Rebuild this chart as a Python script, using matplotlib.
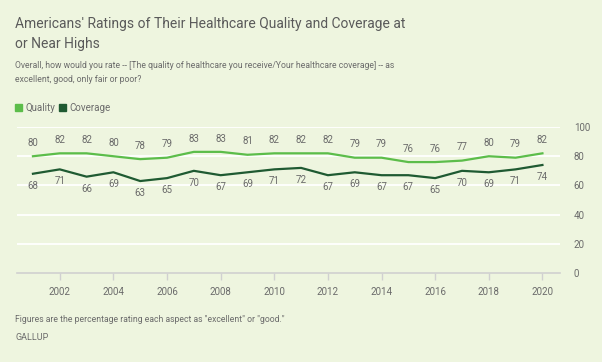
import matplotlib
matplotlib.use("Agg")
import matplotlib.pyplot as plt

plt.rcParams['font.family'] = ['Roboto', 'DejaVu Sans']

# data
years = list(range(2001, 2021))
quality = [80, 82, 82, 80, 78, 79, 83, 83, 81, 82, 82, 82, 79, 79, 76, 76, 77, 80, 79, 82]
coverage = [68, 71, 66, 69, 63, 65, 70, 67, 69, 71, 72, 67, 69, 67, 67, 65, 70, 69, 71, 74]
xticks = list(range(2002, 2021, 2))
yticks = [0, 20, 40, 60, 80, 100]

bg = '#EEF5DF'
c_quality = '#5CBD4A'
c_coverage = '#1F5A32'
grey = '#6B6B6B'

fig = plt.figure(figsize=(6.02, 3.62), dpi=100, facecolor=bg)
ax = fig.add_axes([0.028, 0.246, 0.902, 0.403], facecolor=bg)

for y in yticks[1:]:
    ax.axhline(y, color='white', lw=1.3, zorder=1)

ax.plot(years, quality, color=c_quality, lw=1.6, zorder=3)
ax.plot(years, coverage, color=c_coverage, lw=1.6, zorder=3)

for x, q, c in zip(years, quality, coverage):
    ax.annotate(str(q), (x, q), xytext=(0, 6), textcoords='offset points',
                ha='center', va='bottom', fontsize=7, color=grey)
    ax.annotate(str(c), (x, c), xytext=(0, -5), textcoords='offset points',
                ha='center', va='top', fontsize=7, color=grey)

ax.set_xlim(2000.4, 2020.65)
ax.set_ylim(0, 100)
ax.set_xticks(xticks)
ax.set_xticklabels([str(t) for t in xticks], fontsize=7, color=grey)
ax.yaxis.tick_right()
ax.set_yticks(yticks)
ax.set_yticklabels([str(t) for t in yticks], fontsize=7, color=grey)
ax.tick_params(axis='y', length=0, pad=10)
ax.tick_params(axis='x', length=5, color='#D0D0D0', width=1, pad=5)
for s in ['top', 'left', 'right']:
    ax.spines[s].set_visible(False)
ax.spines['bottom'].set_color('#D0D0D0')
ax.spines['bottom'].set_linewidth(1.2)

fig.text(0.025, 0.905, "Americans' Ratings of Their Healthcare Quality and Coverage at\nor Near Highs",
         fontsize=10, color='#5A5A5A', va='center', linespacing=1.55)
fig.text(0.025, 0.80, "Overall, how would you rate -- [The quality of healthcare you receive/Your healthcare coverage] -- as\nexcellent, good, only fair or poor?",
         fontsize=6.2, color=grey, va='center', linespacing=1.6)

# legend
fig.patches.append(plt.Rectangle((0.025, 0.692), 0.012, 0.022, transform=fig.transFigure,
                                 color=c_quality))
fig.text(0.042, 0.703, 'Quality', fontsize=7, color=grey, va='center')
fig.patches.append(plt.Rectangle((0.098, 0.692), 0.012, 0.022, transform=fig.transFigure,
                                 color=c_coverage))
fig.text(0.115, 0.703, 'Coverage', fontsize=7, color=grey, va='center')

fig.text(0.025, 0.118, 'Figures are the percentage rating each aspect as "excellent" or "good."',
         fontsize=6.2, color=grey, va='center')
fig.text(0.025, 0.068, 'GALLUP', fontsize=6.5, color=grey, va='center')

fig.savefig('out.png', dpi=100, facecolor=bg)
